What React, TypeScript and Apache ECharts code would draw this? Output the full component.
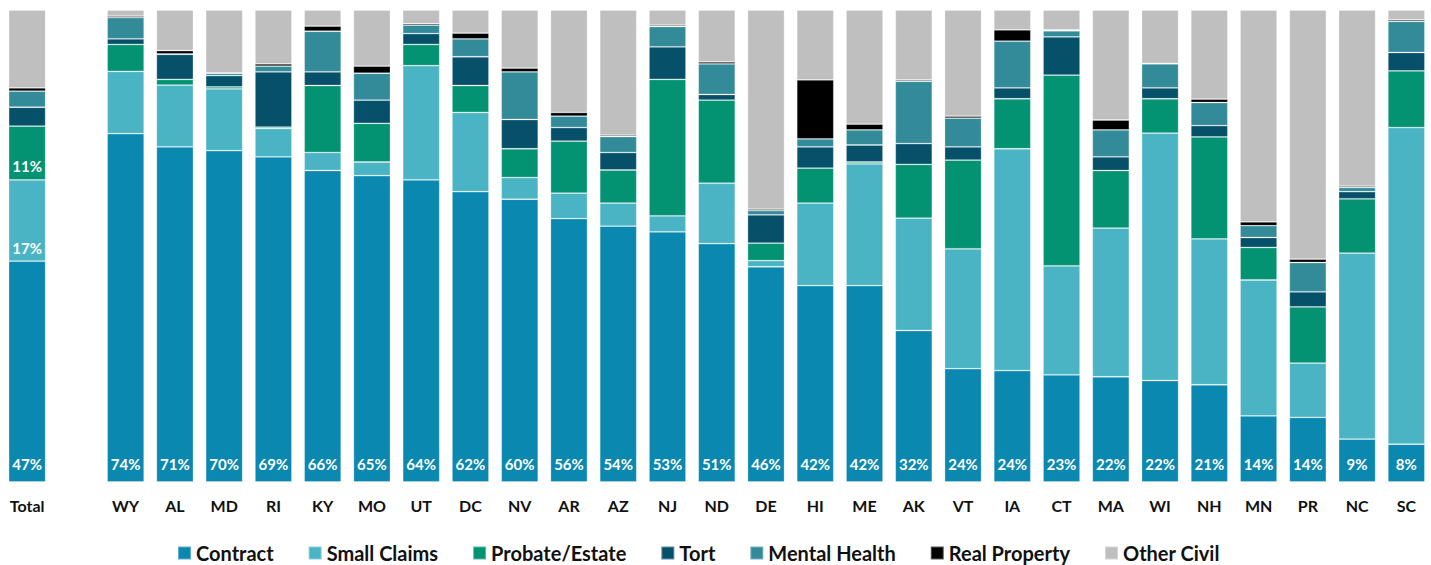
import React, { useEffect, useRef } from "react";
import * as echarts from "echarts";

const categories = ["Total", "", "WY", "AL", "MD", "RI", "KY", "MO", "UT", "DC", "NV", "AR", "AZ", "NJ", "ND", "DE", "HI", "ME", "AK", "VT", "IA", "CT", "MA", "WI", "NH", "MN", "PR", "NC", "SC"];

const seriesNames = ["Contract", "Small Claims", "Probate/Estate", "Tort", "Mental Health", "Real Property", "Other Civil"];
const seriesColors = ["#0A88B0", "#4AB4C4", "#039372", "#07506A", "#338B9A", "#000000", "#BFBFBF"];

const contract = [46.8, null, 73.8, 71.0, 70.2, 68.9, 66.0, 64.9, 64.0, 61.5, 59.9, 55.8, 54.2, 53.0, 50.5, 45.6, 41.6, 41.6, 32.1, 24.0, 23.6, 22.7, 22.3, 21.5, 20.6, 14.0, 13.7, 9.1, 8.0];
const smallClaims = [17.2, null, 13.2, 13.1, 13.1, 6.0, 3.8, 2.9, 24.2, 16.8, 4.6, 5.4, 4.9, 3.4, 12.8, 1.3, 17.5, 25.8, 23.8, 25.4, 47.0, 23.1, 31.5, 52.4, 30.9, 28.8, 11.5, 39.4, 67.1];
const probate = [11.4, null, 5.7, 1.2, 0.4, 0.3, 14.2, 8.2, 4.5, 5.7, 6.1, 11.0, 7.0, 28.9, 17.6, 3.7, 7.4, 0.4, 11.4, 18.8, 10.6, 40.4, 12.2, 7.3, 21.6, 6.9, 11.9, 11.5, 12.0];
const tort = [4.0, null, 1.2, 5.3, 2.4, 11.7, 2.9, 4.9, 2.3, 6.1, 6.2, 2.9, 3.7, 6.9, 1.2, 6.0, 4.5, 3.6, 4.4, 2.8, 2.3, 8.1, 2.9, 2.3, 2.4, 2.1, 3.2, 1.5, 3.9];
const mentalHealth = [3.4, null, 4.5, 0.1, 0.5, 1.2, 8.6, 5.7, 1.8, 3.8, 10.1, 2.4, 3.4, 4.3, 6.5, 0.9, 1.7, 3.2, 13.2, 6.1, 9.9, 1.3, 5.7, 5.1, 4.9, 2.5, 6.2, 0.9, 6.6];
const realProperty = [0.7, null, 0.3, 0.7, 0.1, 0.5, 1.1, 1.5, 0.3, 1.2, 0.8, 0.8, 0.3, 0.3, 0.4, 0.3, 12.5, 1.2, 0.3, 0.4, 2.4, 0.2, 2.1, 0.1, 0.7, 0.8, 0.7, 0.3, 0.3];
const otherCivil = [16.5, null, 1.3, 8.6, 13.3, 11.4, 3.4, 11.9, 2.9, 4.9, 12.3, 21.7, 26.5, 3.2, 11.0, 42.2, 14.8, 24.2, 14.8, 22.5, 4.2, 4.2, 23.3, 11.3, 18.9, 44.9, 52.8, 37.3, 2.1];

const seriesData = [contract, smallClaims, probate, tort, mentalHealth, realProperty, otherCivil];

const FONT = "Lato, 'Open Sans', 'DejaVu Sans', sans-serif";

export default function App() {
  const ref = useRef<HTMLDivElement>(null);

  useEffect(() => {
    if (!ref.current) return;
    const chart = echarts.init(ref.current, null, { renderer: "svg" });

    const series = seriesNames.map((name, si) => {
      const labelled = si === 0 || si === 1 || si === 2;
      return {
        name,
        type: "bar",
        stack: "total",
        barWidth: 37,
        data: seriesData[si],
        itemStyle: {
          color: seriesColors[si],
          borderColor: "rgba(255,255,255,0.35)",
          borderWidth: 0.8,
        },
        label: labelled
          ? {
              show: true,
              position: "insideBottom",
              distance: si === 0 ? 11 : 6,
              color: "#ffffff",
              fontFamily: FONT,
              fontWeight: "bold",
              fontSize: 15,
              formatter: (p: any) => {
                if (p.value == null) return "";
                if (si !== 0 && p.dataIndex !== 0) return "";
                return Math.round(p.value) + "%";
              },
            }
          : { show: false },
        emphasis: { disabled: true },
      };
    });

    chart.setOption({
      animation: false,
      backgroundColor: "#ffffff",
      grid: { left: 2.5, width: 1430, top: 10, bottom: 83, containLabel: false },
      legend: {
        data: seriesNames,
        left: 177,
        top: 541,
        padding: 0,
        itemWidth: 13,
        itemHeight: 13,
        itemGap: 34,
        icon: "rect",
        textStyle: {
          fontFamily: FONT,
          fontWeight: "bold",
          fontSize: 20,
          lineHeight: 24,
          color: "#111111",
        },
        selectedMode: false,
      },
      xAxis: {
        type: "category",
        data: categories,
        axisLine: { show: false },
        axisTick: { show: false },
        axisLabel: {
          interval: 0,
          margin: 15,
          color: "#111111",
          fontFamily: FONT,
          fontWeight: "bold",
          fontSize: 16,
        },
      },
      yAxis: {
        type: "value",
        min: 0,
        max: 100,
        show: false,
        splitLine: { show: false },
      },
      series,
    });

    return () => chart.dispose();
  }, []);

  return (
    <div
      ref={ref}
      style={{ position: "fixed", left: 0, top: 0, width: 1431, height: 565 }}
    />
  );
}
